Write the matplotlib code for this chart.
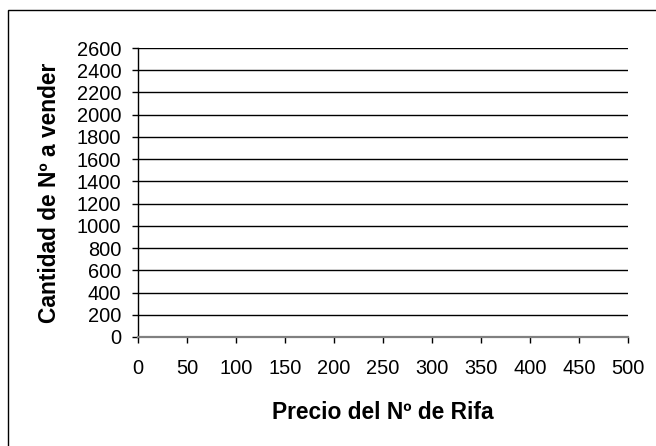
import matplotlib
matplotlib.use("Agg")
import matplotlib.pyplot as plt
from matplotlib.patches import Rectangle

# Axis scales for the raffle chart (no series plotted yet)
x_ticks = [0, 50, 100, 150, 200, 250, 300, 350, 400, 450, 500]
y_ticks = [0, 200, 400, 600, 800, 1000, 1200, 1400, 1600, 1800, 2000, 2200, 2400, 2600]
x_label = "Precio del Nº de Rifa"
y_label = "Cantidad de Nº a vender"

plt.rcParams["font.family"] = ["Liberation Sans", "DejaVu Sans"]

W, H, DPI = 656, 446, 100
fig = plt.figure(figsize=(W / DPI, H / DPI), dpi=DPI)
fig.patch.set_facecolor("white")

# outer chart border (only left/top edges fall inside the canvas)
fig.patches.append(Rectangle((8 / W, -0.1), 1.2, 1 - 9.5 / H + 0.1,
                             transform=fig.transFigure, fill=False,
                             edgecolor="black", linewidth=1.0))

left, right, top, bottom = 138, 628, 48, 337
ax = fig.add_axes([left / W, 1 - bottom / H, (right - left) / W, (bottom - top) / H])

ax.set_xlim(x_ticks[0], x_ticks[-1])
ax.set_ylim(y_ticks[0], y_ticks[-1])
ax.set_xticks(x_ticks)
ax.set_yticks(y_ticks)

for yv in y_ticks[1:]:
    ax.axhline(yv, color="black", linewidth=1.0, zorder=1)

for side in ("top", "right"):
    ax.spines[side].set_visible(False)
ax.spines["left"].set_color("black")
ax.spines["left"].set_linewidth(1.0)
ax.spines["bottom"].set_color("#808080")
ax.spines["bottom"].set_linewidth(1.6)

ax.tick_params(axis="y", direction="out", length=4, width=1.0, color="black",
               pad=8, labelsize=14.4)
ax.tick_params(axis="x", direction="out", length=4, width=1.0, color="black",
               pad=12, labelsize=14.4)

ax.set_xlabel(x_label, fontsize=16.4, fontweight="bold")
ax.set_ylabel(y_label, fontsize=16.4, fontweight="bold")
ax.xaxis.set_label_coords(0.5, (bottom - 401) / (bottom - top))
ax.yaxis.set_label_coords((61 - left) / (right - left), 0.5)

fig.savefig("out.png", dpi=DPI)
